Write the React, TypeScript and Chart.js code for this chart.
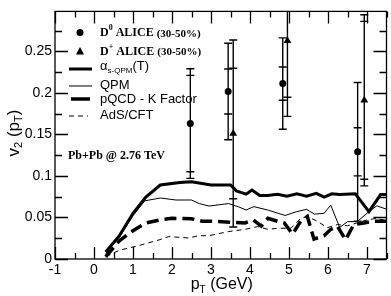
import React, { useEffect, useRef } from "react";
import { Chart, registerables } from "chart.js";
Chart.register(...registerables);

// alpha_s-QPM(T) (thick solid)
const alphaX = [0.3, 0.65, 1.0, 1.33, 1.7, 2.2, 2.5, 3.0, 3.5, 3.65, 3.9, 4.05, 4.25, 4.45, 4.7, 4.95, 5.2, 5.45, 5.7, 5.9, 6.1, 6.3, 6.7, 7.05, 7.35, 7.5];
const alphaY = [0.0085, 0.028, 0.055, 0.0745, 0.089, 0.092, 0.093, 0.089, 0.089, 0.082, 0.078, 0.083, 0.0765, 0.0765, 0.078, 0.0757, 0.0784, 0.0757, 0.079, 0.0745, 0.0784, 0.0777, 0.0784, 0.057, 0.0775, 0.0775];
// QPM (thin solid)
const qpmX = [0.3, 0.65, 1.0, 1.3, 1.7, 2.1, 2.5, 2.7, 2.95, 3.45, 3.7, 3.9, 4.1, 4.45, 4.9, 5.2, 5.45, 5.65, 5.9, 6.07, 6.3, 6.5, 6.75, 7.05, 7.25, 7.5];
const qpmY = [0.0066, 0.026, 0.052, 0.07, 0.0734, 0.071, 0.071, 0.0667, 0.0637, 0.0667, 0.0629, 0.059, 0.063, 0.059, 0.0524, 0.057, 0.0598, 0.054, 0.055, 0.0648, 0.038, 0.045, 0.045, 0.057, 0.064, 0.06];
// pQCD - K Factor (thick dashed)
const pqcdX = [0.3, 0.65, 1.0, 1.33, 1.7, 2.0, 2.5, 2.77, 3.0, 3.53, 3.87, 4.08, 4.29, 4.46, 4.71, 4.88, 5.09, 5.3, 5.47, 5.64, 5.9, 6.07, 6.24, 6.45, 6.66, 6.92, 7.17, 7.5];
const pqcdY = [0.0027, 0.022, 0.034, 0.0434, 0.047, 0.049, 0.0485, 0.0454, 0.0454, 0.0442, 0.0434, 0.047, 0.0396, 0.049, 0.0454, 0.0434, 0.03, 0.0454, 0.0512, 0.024, 0.028, 0.0357, 0.0396, 0.023, 0.0415, 0.0434, 0.0454, 0.0454];
// AdS/CFT (thin dashed)
const adsX = [0.3, 0.65, 1.16, 1.67, 1.92, 2.43, 2.68, 2.94, 3.45, 3.87, 4.2, 4.46, 4.71, 5.05, 5.3, 5.47, 5.73, 5.98, 6.24, 6.5, 6.74, 7.0, 7.25, 7.5];
const adsY = [0.0027, 0.0105, 0.0163, 0.023, 0.027, 0.0253, 0.028, 0.028, 0.033, 0.0357, 0.039, 0.0357, 0.037, 0.037, 0.049, 0.051, 0.0454, 0.0376, 0.0415, 0.04, 0.0434, 0.047, 0.049, 0.046];

// D0 ALICE (30-50%)
const d0X = [2.47, 3.44, 4.84, 6.76];
const d0Y = [0.163, 0.2016, 0.2111, 0.129];
const d0ErrInner = [0.058, 0.027, 0.02, 0.029];
const d0ErrOuter = [0.066, 0.058, 0.055, 0.0834];
// D+ ALICE (30-50%)
const dpX = [3.57, 4.96, 6.93];
const dpY = [0.151, 0.2627, 0.191];
const dpErrInner = [0.0785, 0.068, 0.095];
const dpErrOuter = [0.1125, 0.091, 0.103];

const SANS = "'Liberation Sans', Arial, sans-serif";
const SERIF = "'Liberation Serif', 'Times New Roman', serif";

const pts = (xs: number[], ys: number[]) => xs.map((x, i) => ({ x, y: ys[i] }));

function drawParts(ctx: CanvasRenderingContext2D, x: number, y: number, parts: { t: string; font: string; dy?: number }[]) {
  let cx = x;
  ctx.textBaseline = "middle";
  ctx.textAlign = "left";
  for (const p of parts) {
    ctx.font = p.font;
    ctx.fillText(p.t, cx, y + (p.dy || 0));
    cx += ctx.measureText(p.t).width;
  }
  return cx - x;
}
function measureParts(ctx: CanvasRenderingContext2D, parts: { t: string; font: string }[]) {
  let w = 0;
  for (const p of parts) {
    ctx.font = p.font;
    w += ctx.measureText(p.t).width;
  }
  return w;
}

const decorPlugin = {
  id: "decor",
  beforeDatasetsDraw(chart: any) {
    const ctx: CanvasRenderingContext2D = chart.ctx;
    const xs = chart.scales.x, ys = chart.scales.y;
    const a = chart.chartArea;
    ctx.save();
    ctx.beginPath();
    ctx.rect(a.left, a.top, a.right - a.left, a.bottom - a.top);
    ctx.clip();
    ctx.strokeStyle = "#000";
    ctx.lineWidth = 1.4;
    const bar = (x: number, y: number, ei: number, eo: number) => {
      const px = xs.getPixelForValue(x);
      const top = ys.getPixelForValue(y + eo), bot = ys.getPixelForValue(y - eo);
      ctx.beginPath();
      ctx.moveTo(px, top);
      ctx.lineTo(px, bot);
      for (const v of [y + eo, y - eo, y + ei, y - ei]) {
        const py = ys.getPixelForValue(v);
        ctx.moveTo(px - 4, py);
        ctx.lineTo(px + 4, py);
      }
      ctx.stroke();
    };
    d0X.forEach((x, i) => bar(x, d0Y[i], d0ErrInner[i], d0ErrOuter[i]));
    dpX.forEach((x, i) => bar(x, dpY[i], dpErrInner[i], dpErrOuter[i]));
    ctx.restore();
  },
  afterDraw(chart: any) {
    const ctx: CanvasRenderingContext2D = chart.ctx;
    const xs = chart.scales.x, ys = chart.scales.y;
    const a = chart.chartArea;
    ctx.save();
    ctx.strokeStyle = "#000";
    ctx.fillStyle = "#000";
    // frame
    ctx.lineWidth = 1.3;
    ctx.strokeRect(a.left, a.top, a.right - a.left, a.bottom - a.top);
    // inward ticks
    ctx.lineWidth = 1.3;
    ctx.beginPath();
    for (let v = -1; v <= 7.5001; v += 0.5) {
      const px = Math.round(xs.getPixelForValue(v)) + 0.5;
      const major = Math.abs(v - Math.round(v)) < 1e-6;
      const len = major ? 12 : 6;
      ctx.moveTo(px, a.bottom);
      ctx.lineTo(px, a.bottom - len);
      ctx.moveTo(px, a.top);
      ctx.lineTo(px, a.top + len);
    }
    for (let k = 0; k <= 11; k++) {
      const v = k * 0.025;
      const py = Math.round(ys.getPixelForValue(v)) + 0.5;
      const major = k % 2 === 0;
      const len = major ? 13 : 7;
      ctx.moveTo(a.left, py);
      ctx.lineTo(a.left + len, py);
      ctx.moveTo(a.right, py);
      ctx.lineTo(a.right - len, py);
    }
    ctx.stroke();

    // legend
    const boldS = `bold 12px ${SERIF}`;
    const boldSup = `bold 8px ${SERIF}`;
    const boldSmall = `bold 11px ${SERIF}`;
    ctx.beginPath();
    ctx.arc(80, 32.5, 3.5, 0, Math.PI * 2);
    ctx.fill();
    drawParts(ctx, 100, 33, [
      { t: "D", font: boldS },
      { t: "0", font: boldSup, dy: -5 },
      { t: " ALICE ", font: boldS },
      { t: "(30-50%)", font: boldSmall, dy: 1 },
    ]);
    ctx.beginPath();
    ctx.moveTo(80, 47);
    ctx.lineTo(84, 54.5);
    ctx.lineTo(76, 54.5);
    ctx.closePath();
    ctx.fill();
    drawParts(ctx, 100, 51.5, [
      { t: "D", font: boldS },
      { t: "+", font: boldSup, dy: -5 },
      { t: " ALICE ", font: boldS },
      { t: "(30-50%)", font: boldSmall, dy: 1 },
    ]);
    const f12 = `13px ${SANS}`;
    const fsub = `8px ${SANS}`;
    ctx.lineWidth = 3;
    ctx.beginPath();
    ctx.moveTo(69, 69);
    ctx.lineTo(92, 69);
    ctx.stroke();
    drawParts(ctx, 100, 66, [
      { t: "\u03b1", font: f12 },
      { t: "s-QPM", font: fsub, dy: 5 },
      { t: "(T)", font: f12 },
    ]);
    ctx.lineWidth = 1;
    ctx.beginPath();
    ctx.moveTo(69, 86);
    ctx.lineTo(92, 86);
    ctx.stroke();
    drawParts(ctx, 100, 85, [{ t: "QPM", font: f12 }]);
    ctx.lineWidth = 3.5;
    ctx.beginPath();
    ctx.moveTo(71, 99);
    ctx.lineTo(90, 99);
    ctx.stroke();
    drawParts(ctx, 100, 99, [{ t: "pQCD - K Factor", font: f12 }]);
    ctx.lineWidth = 1;
    ctx.setLineDash([5, 4]);
    ctx.beginPath();
    ctx.moveTo(69, 116);
    ctx.lineTo(88, 116);
    ctx.stroke();
    ctx.setLineDash([]);
    drawParts(ctx, 100, 115, [{ t: "AdS/CFT", font: f12 }]);

    // annotation
    drawParts(ctx, 68, 156, [{ t: "Pb+Pb @ 2.76 TeV", font: `bold 12px ${SERIF}` }]);

    // axis titles
    const ft = `16px ${SANS}`;
    const fts = `10px ${SANS}`;
    const xParts = [
      { t: "p", font: ft },
      { t: "T", font: fts, dy: 5 },
      { t: " (GeV)", font: ft },
    ];
    const xw = measureParts(ctx, xParts);
    drawParts(ctx, (a.left + a.right) / 2 - xw / 2 + 1, 285, xParts);
    const fy = `17px ${SANS}`;
    const fys = `11px ${SANS}`;
    const yParts = [
      { t: "v", font: fy },
      { t: "2", font: fys, dy: 5 },
      { t: " (p", font: fy },
      { t: "T", font: fys, dy: 5 },
      { t: ")", font: fy },
    ];
    const yw = measureParts(ctx, yParts);
    ctx.translate(14, 133);
    ctx.rotate(-Math.PI / 2);
    drawParts(ctx, -yw / 2, 0, yParts);
    ctx.restore();
  },
};

export default function App() {
  const ref = useRef<HTMLCanvasElement | null>(null);
  useEffect(() => {
    if (!ref.current) return;
    const chart = new Chart(ref.current, {
      type: "scatter",
      data: {
        datasets: [
          { data: pts(alphaX, alphaY), showLine: true, borderColor: "#000", borderWidth: 3, pointRadius: 0, tension: 0 },
          { data: pts(qpmX, qpmY), showLine: true, borderColor: "#000", borderWidth: 1, pointRadius: 0, tension: 0 },
          { data: pts(pqcdX, pqcdY), showLine: true, borderColor: "#000", borderWidth: 3.5, borderDash: [12, 6], pointRadius: 0, tension: 0 },
          { data: pts(adsX, adsY), showLine: true, borderColor: "#000", borderWidth: 1, borderDash: [5, 4], pointRadius: 0, tension: 0 },
          { data: pts(d0X, d0Y), showLine: false, pointStyle: "circle", pointRadius: 3.5, backgroundColor: "#000", borderColor: "#000", borderWidth: 0 },
          { data: pts(dpX, dpY), showLine: false, pointStyle: "triangle", pointRadius: 4.5, backgroundColor: "#000", borderColor: "#000", borderWidth: 0 },
        ] as any,
      },
      options: {
        animation: false,
        responsive: false,
        events: [],
        layout: { padding: { top: 3, right: 2, left: 0, bottom: 0 } },
        plugins: { legend: { display: false }, tooltip: { enabled: false } },
        scales: {
          x: {
            type: "linear",
            min: -1,
            max: 7.5,
            grid: { display: false, drawTicks: false },
            border: { display: false },
            ticks: {
              stepSize: 1,
              includeBounds: false,
              autoSkip: false,
              maxRotation: 0,
              padding: 3,
              color: "#000",
              font: { family: SANS, size: 14 },
              callback: (v: any) => String(v),
            },
            afterFit: (s: any) => { s.height = 37; },
          },
          y: {
            type: "linear",
            min: 0,
            max: 0.298,
            grid: { display: false, drawTicks: false },
            border: { display: false },
            ticks: {
              stepSize: 0.05,
              includeBounds: false,
              autoSkip: false,
              padding: 3,
              color: "#000",
              font: { family: SANS, size: 14 },
              callback: (v: any) => String(Math.round(v * 1000) / 1000),
            },
            afterFit: (s: any) => { s.width = 55; },
          },
        },
      } as any,
      plugins: [decorPlugin],
    });
    return () => chart.destroy();
  }, []);
  return (
    <div style={{ position: "fixed", left: 0, top: 0, width: 391, height: 296, background: "#fff" }}>
      <canvas ref={ref} width={391} height={296} style={{ display: "block" }} />
    </div>
  );
}
